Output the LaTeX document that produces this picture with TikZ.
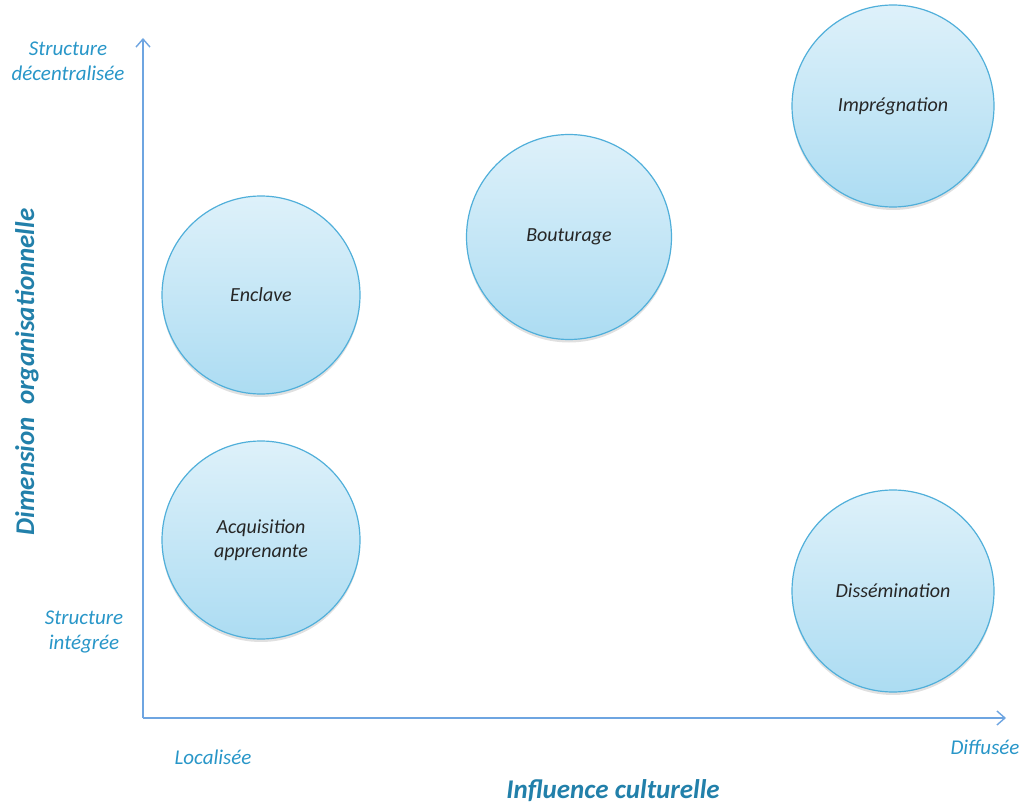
\documentclass[tikz,border=0pt]{standalone}
\usepackage{fontspec}
\setmainfont{Carlito}
\usetikzlibrary{arrows.meta,shadows,shadings}
\definecolor{axisblue}{RGB}{110,165,225}
\definecolor{txtblue}{RGB}{40,150,200}
\definecolor{circtop}{RGB}{222,241,250}
\definecolor{circbot}{RGB}{172,220,242}
\definecolor{circedge}{RGB}{80,175,218}
\tikzset{
  x=1pt,y=-1pt,
  bubble/.style={circle,minimum size=198pt,inner sep=0pt,draw=circedge,line width=1.2pt,
    top color=circtop,bottom color=circbot,align=center,
    font=\itshape\fontsize{20}{24}\selectfont,text=black!85,
    drop shadow={shadow xshift=0pt,shadow yshift=-3pt,opacity=0.3,fill=black!40}},
  axis/.style={draw=axisblue,line width=1.4pt,-{Straight Barb[length=8pt,width=14pt]}},
  lbl/.style={text=txtblue,font=\itshape\fontsize{21}{25}\selectfont,align=center,inner sep=0pt},
  title/.style={text=txtblue!85!black,font=\bfseries\itshape\fontsize{27}{31}\selectfont,inner sep=0pt}
}
\begin{document}
\begin{tikzpicture}
\useasboundingbox (0,0) rectangle (1031,805);
\coordinate (O) at (143,718);
\coordinate (ytop) at (143,38);
\coordinate (xend) at (1006,718);
\draw[axis] (O) -- (ytop);
\draw[axis] (O) -- (xend);
\node[bubble] (enclave) at (261,295) {Enclave};
\node[bubble] (acq) at (261,540) {Acquisition\\apprenante};
\node[bubble,minimum size=205pt] (bout) at (569,237) {Bouturage};
\node[bubble,minimum size=202pt] (impr) at (893,106) {Imprégnation};
\node[bubble,minimum size=202pt] (diss) at (893,591) {Dissémination};
\node[lbl] (sd) at (68,61) {Structure\\décentralisée};
\node[lbl] (si) at (84,632) {Structure\\intégrée};
\node[lbl] (loc) at (213,757) {Localisée};
\node[lbl] (dif) at (985,747) {Diffusée};
\node[title] (ic) at (613,791) {Influence culturelle};
\node[title,rotate=90] (dim) at (27,372) {Dimension\ \ organisationnelle};
\end{tikzpicture}
\end{document}
